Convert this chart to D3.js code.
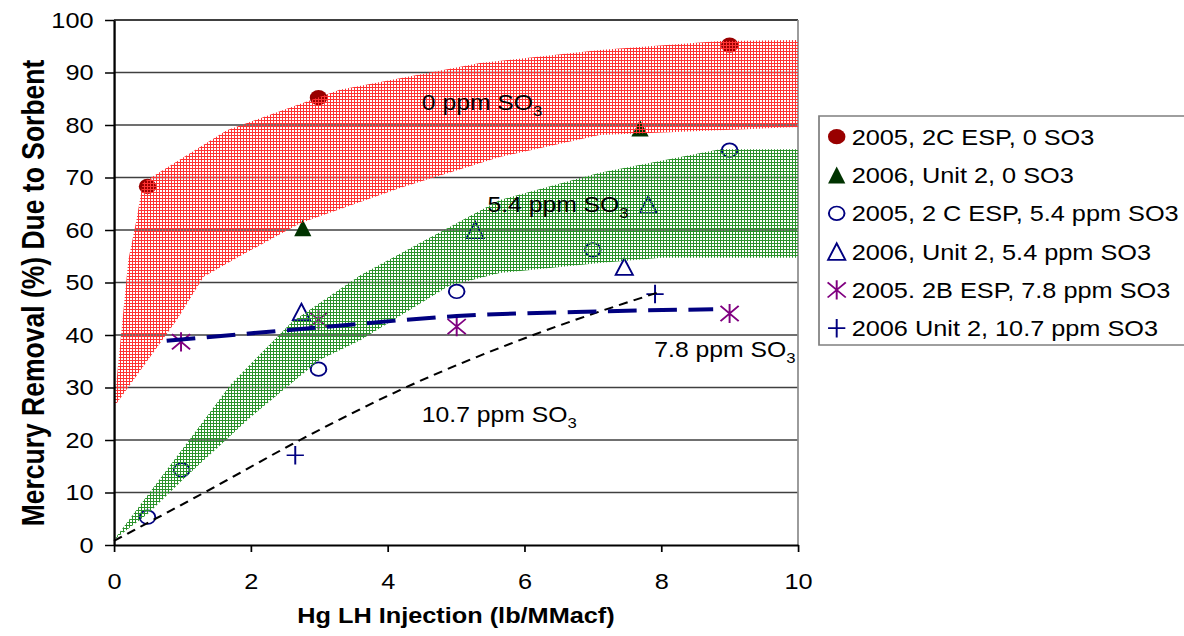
<!DOCTYPE html>
<html>
<head>
<meta charset="utf-8">
<script src="https://cdn.jsdelivr.net/npm/d3@7"></script>
<style>
  html, body { margin: 0; padding: 0; background: #fff; }
  svg { display: block; }
  text { font-family: Arial, "Liberation Sans", sans-serif; fill: #000; }
</style>
</head>
<body>
<svg id="chart"></svg>
<script>
// values
const xTicks = [0, 2, 4, 6, 8, 10];
const yTicks = [0, 10, 20, 30, 40, 50, 60, 70, 80, 90, 100];

const dot0X = [0.49, 2.99, 9.0];
const dot0Y = [68.3, 85.2, 95.2];
const tri0X = [2.76, 7.69];
const tri0Y = [60.4, 79.4];
const ring54X = [0.49, 0.99, 2.99, 5.01, 7.0, 9.0];
const ring54Y = [5.3, 14.3, 33.5, 48.3, 56.2, 75.2];
const otri54X = [2.74, 5.28, 7.46, 7.81];
const otri54Y = [44.4, 60.0, 53.0, 64.8];
const star78X = [0.98, 2.99, 5.01, 9.0];
const star78Y = [38.7, 42.9, 41.6, 44.1];
const plus107X = [2.65, 7.91];
const plus107Y = [17.1, 47.8];

// trend lines
const trend78X = [0.77, 2.96, 5.01, 7.1, 8.76];
const trend78Y = [38.9, 41.4, 43.6, 44.5, 44.9];
const trend107X = [0, 1.35, 2.72, 4.18, 6.13, 8.0];
const trend107Y = [0.8, 10.2, 20.0, 29.5, 40.0, 48.3];

// shaded bands (outline points, clockwise)
const band0 = [[0, 26.3], [0.21, 54.3], [0.33, 62], [0.42, 69], [1.65, 79], [3.3, 86.7], [5.35, 91.8],
  [7.1, 94.3], [8.86, 96], [10, 96.2], [10, 79.6], [7.1, 78.1], [5.64, 73.9], [4.18, 68],
  [2.72, 61.3], [1.74, 54.3], [1.31, 51.1], [0.92, 42.9]];
const band54 = [[0, 1], [1.1, 20], [1.7, 30.5], [2.6, 42.5], [3.6, 51.4], [4.2, 55.6], [5.64, 65.7],
  [7.1, 70.9], [8.86, 75.4], [10, 75.4], [10, 54.7], [8, 54.7], [7.1, 53.7], [5.64, 51.8],
  [4.9, 49.4], [3.6, 39], [3, 35.2], [2, 24.4], [1, 12.4], [0.5, 6]];

const bandLabels = ["0 ppm SO", "5.4 ppm SO", "7.8 ppm SO", "10.7 ppm SO"];
const bandLabelX = [4.5, 5.46, 7.9, 4.5];
const bandLabelY = [82.9, 63.5, 35.9, 23.5];

const legendLabels = ["2005, 2C ESP, 0 SO3", "2006, Unit 2, 0 SO3", "2005, 2 C ESP, 5.4 ppm SO3",
  "2006, Unit 2, 5.4 ppm SO3", "2005. 2B ESP, 7.8 ppm SO3", "2006 Unit 2, 10.7 ppm SO3"];
const legendTypes = ["dot", "tri", "ring", "otri", "star", "plus"];

// the picture is stretched sideways, so draw in a narrower space and stretch it
const s = 1.15;
const W = 1184 / s, H = 636;

const svg = d3.select("#chart")
  .attr("width", 1184).attr("height", 636)
  .attr("viewBox", `0 0 ${W} ${H}`)
  .attr("preserveAspectRatio", "none");

const x = d3.scaleLinear().domain([0, 10]).range([114 / s, 798 / s]);
const y = d3.scaleLinear().domain([0, 100]).range([545, 20]);

// fine mesh, 3 screen px per cell, 1px lines
const defs = svg.append("defs");
function hatch(id, color) {
  const p = defs.append("pattern").attr("id", id)
    .attr("patternUnits", "userSpaceOnUse").attr("width", 3 / s).attr("height", 3);
  p.append("rect").attr("x", 0).attr("y", 0).attr("width", 3 / s).attr("height", 1).attr("fill", color);
  p.append("rect").attr("x", 0).attr("y", 0).attr("width", 1 / s).attr("height", 3).attr("fill", color);
}
hatch("redHatch", "#ff3333");
hatch("greenHatch", "#2a922a");

// gridlines
svg.append("g").selectAll("line").data(yTicks.filter(d => d > 0)).enter().append("line")
  .attr("x1", x(0)).attr("x2", x(10))
  .attr("y1", d => y(d)).attr("y2", d => y(d))
  .attr("stroke", d => d === 100 ? "#000" : "#404040").attr("stroke-width", 1.6);

// right border of plot
svg.append("line").attr("x1", x(10)).attr("x2", x(10)).attr("y1", y(0)).attr("y2", y(100))
  .attr("stroke", "#8c8c8c").attr("stroke-width", 1.5);

// markers
const markers = svg.append("g");
function drawMarker(g, type, cx, cy) {
  if (type === "dot") {
    g.append("circle").attr("cx", cx).attr("cy", cy).attr("r", 7.6).attr("fill", "#990000");
  } else if (type === "tri") {
    const w = 7.5, h = 8.4;
    g.append("path").attr("d", `M${cx},${cy - h}L${cx + w},${cy + h}L${cx - w},${cy + h}Z`)
      .attr("fill", "#003300");
  } else if (type === "ring") {
    g.append("circle").attr("cx", cx).attr("cy", cy).attr("r", 6.8)
      .attr("fill", "none").attr("stroke", "#000080").attr("stroke-width", 1.7);
  } else if (type === "otri") {
    const w = 7.5, h = 8.2;
    g.append("path").attr("d", `M${cx},${cy - h}L${cx + w},${cy + h}L${cx - w},${cy + h}Z`)
      .attr("fill", "none").attr("stroke", "#000080").attr("stroke-width", 1.7);
  } else if (type === "star") {
    const a = 7.9, b = 7.6, v = 9.6;
    g.append("path")
      .attr("d", `M${cx - a},${cy - b}L${cx + a},${cy + b}M${cx + a},${cy - b}L${cx - a},${cy + b}M${cx},${cy - v}L${cx},${cy + v}`)
      .attr("fill", "none").attr("stroke", "#800080").attr("stroke-width", 1.7);
  } else if (type === "plus") {
    const a = 7.5, v = 9.2;
    g.append("path")
      .attr("d", `M${cx - a},${cy}L${cx + a},${cy}M${cx},${cy - v}L${cx},${cy + v}`)
      .attr("fill", "none").attr("stroke", "#000080").attr("stroke-width", 1.7);
  }
}
const series = [
  ["dot", dot0X, dot0Y], ["tri", tri0X, tri0Y], ["ring", ring54X, ring54Y],
  ["otri", otri54X, otri54Y], ["star", star78X, star78Y], ["plus", plus107X, plus107Y]
];
series.forEach(([type, xs, ys]) => {
  xs.forEach((v, i) => drawMarker(markers, type, x(v), y(ys[i])));
});

// bands (drawn over the markers, the mesh lets them show through)
const poly = d3.line().x(d => x(d[0])).y(d => y(d[1])).curve(d3.curveLinearClosed);
svg.append("path").attr("d", poly(band0)).attr("fill", "url(#redHatch)");
svg.append("path").attr("d", poly(band54)).attr("fill", "url(#greenHatch)");

// trend lines
const line = d3.line().x(d => x(d[0])).y(d => y(d[1])).curve(d3.curveMonotoneX);
svg.append("path").attr("d", line(trend107X.map((v, i) => [v, trend107Y[i]])))
  .attr("fill", "none").attr("stroke", "#000").attr("stroke-width", 2)
  .attr("stroke-dasharray", "8,5.5");
svg.append("path").attr("d", line(trend78X.map((v, i) => [v, trend78Y[i]])))
  .attr("fill", "none").attr("stroke", "#000080").attr("stroke-width", 4)
  .attr("stroke-dasharray", "25,10");

// axes
const xAxis = svg.append("g").attr("transform", `translate(0,${y(0)})`)
  .call(d3.axisBottom(x).tickValues(xTicks).tickSize(7).tickSizeOuter(0).tickPadding(21)
    .tickFormat(d3.format("d")));
const yAxis = svg.append("g").attr("transform", `translate(${x(0)},0)`)
  .call(d3.axisLeft(y).tickValues(yTicks).tickSize(7.8).tickSizeOuter(0).tickPadding(10)
    .tickFormat(d3.format("d")));
[xAxis, yAxis].forEach(a => {
  a.select(".domain").attr("stroke", "#000").attr("stroke-width", 2);
  a.selectAll(".tick line").attr("stroke", "#000").attr("stroke-width", 1.5);
  a.selectAll(".tick text").attr("font-size", 22)
    .attr("font-family", "Arial, 'Liberation Sans', sans-serif").attr("fill", "#000");
});

// band labels with subscript 3
bandLabels.forEach((t, i) => {
  const tx = svg.append("text").attr("x", x(bandLabelX[i])).attr("y", y(bandLabelY[i]))
    .attr("font-size", 21.5);
  tx.append("tspan").text(t);
  tx.append("tspan").attr("font-size", 14.5).attr("dy", 6).text("3");
});

// axis titles
svg.append("text").attr("x", (x(0) + x(10)) / 2).attr("y", 623)
  .attr("text-anchor", "middle").attr("font-weight", "bold").attr("font-size", 22)
  .text("Hg LH Injection (lb/MMacf)");
svg.append("text").attr("transform", `translate(${44 / s},${293}) rotate(-90)`)
  .attr("text-anchor", "middle").attr("font-weight", "bold").attr("font-size", 26.5)
  .text("Mercury Removal (%) Due to Sorbent");

// legend
const lg = svg.append("g");
lg.append("rect").attr("x", 819 / s).attr("y", 116).attr("width", W).attr("height", 229)
  .attr("fill", "#fff").attr("stroke", "#7f7f7f").attr("stroke-width", 1.5);
legendLabels.forEach((t, i) => {
  const cy = 136.7 + i * 38.3;
  drawMarker(lg, legendTypes[i], 836.7 / s, cy);
  lg.append("text").attr("x", 851.7 / s).attr("y", cy + 8).attr("font-size", 22).text(t);
});
</script>
</body>
</html>
